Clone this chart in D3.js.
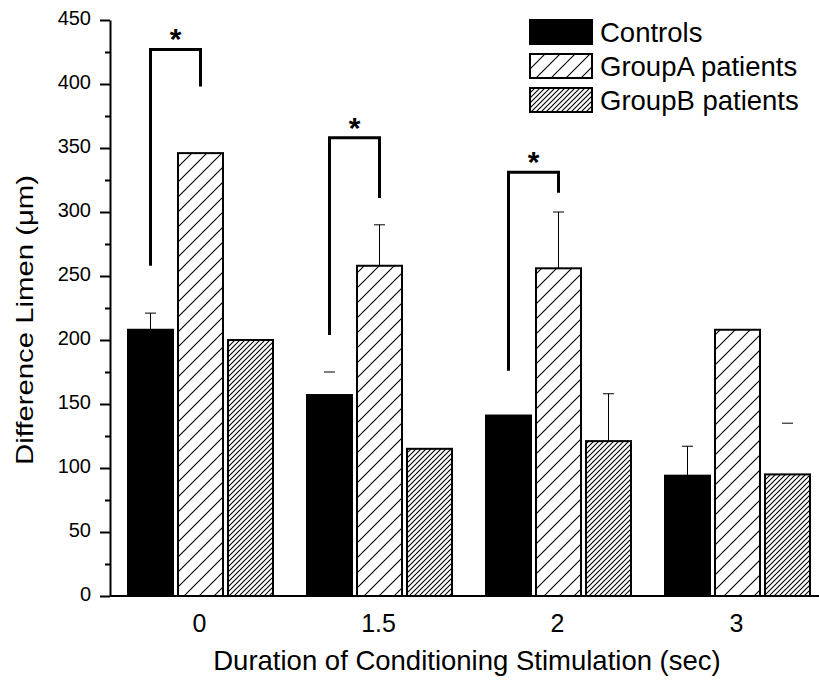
<!DOCTYPE html>
<html>
<head>
<meta charset="utf-8">
<script src="https://cdn.jsdelivr.net/npm/d3@7/dist/d3.min.js"></script>
<style>
  html, body { margin: 0; padding: 0; background: #fff; }
  svg { display: block; font-family: "Liberation Sans", Arial, sans-serif; }
</style>
</head>
<body>
<svg id="chart" width="819" height="681"></svg>
<script>
// ---- data ----
const categories = ["0", "1.5", "2", "3"];
const seriesNames = ["Controls", "GroupA patients", "GroupB patients"];
const controls = [208, 157, 141, 94];
const groupA   = [346, 258, 256, 208];
const groupB   = [200, 115, 121, 95];
// upper error-bar ends (null = none drawn)
const errControls = [221, 175, null, 117];
const errGroupA   = [null, 290, 300, null];
const errGroupB   = [null, null, 158, 135];
// whether the error-bar stem is visible (otherwise only the cap shows)
const stemControls = [true, false, false, true];
const stemGroupA   = [false, true, true, false];
const stemGroupB   = [false, false, true, false];
// significance brackets (Controls vs GroupA)
const bracketCats        = ["0", "1.5", "2"];
const bracketTop         = [427, 358, 331];
const bracketLeftBottom  = [258, 204, 176];
const bracketRightBottom = [398, 311, 315];
const yTicks = [0, 50, 100, 150, 200, 250, 300, 350, 400, 450];
const yMinorTicks = [25, 75, 125, 175, 225, 275, 325, 375, 425];
const xTitle = "Duration of Conditioning Stimulation (sec)";
const yTitle = "Difference Limen (\u03bcm)";

const values = [controls, groupA, groupB];
const errs = [errControls, errGroupA, errGroupB];
const stems = [stemControls, stemGroupA, stemGroupB];

// ---- scales ----
const svg = d3.select("#chart");
const y = d3.scaleLinear().domain([0, 450]).range([596, 20]);
const x0 = d3.scaleBand().domain(categories).range([110, 826]).padding(0);
const x1 = d3.scaleBand().domain(seriesNames).range([18, 163]).paddingInner(0.1).paddingOuter(0);

// ---- patterns ----
const defs = svg.append("defs");
const pA = defs.append("pattern").attr("id", "hatchA").attr("patternUnits", "userSpaceOnUse")
  .attr("width", 15).attr("height", 15);
pA.append("rect").attr("width", 15).attr("height", 15).attr("fill", "#fff");
pA.append("path").attr("d", "M-2,17 L17,-2 M-4,4 L4,-4 M11,19 L19,11")
  .attr("stroke", "#000").attr("stroke-width", 1.1);
const pB = defs.append("pattern").attr("id", "hatchB").attr("patternUnits", "userSpaceOnUse")
  .attr("width", 5).attr("height", 5);
pB.append("rect").attr("width", 5).attr("height", 5).attr("fill", "#fff");
pB.append("path").attr("d", "M-1,6 L6,-1 M-2,2 L2,-2 M3,7 L7,3")
  .attr("stroke", "#000").attr("stroke-width", 1.1);
const fills = ["#000", "url(#hatchA)", "url(#hatchB)"];

// ---- bars ----
const g = svg.append("g");
seriesNames.forEach((s, si) => {
  g.append("g").selectAll("rect")
    .data(categories.map((c, ci) => ({ c, v: values[si][ci] })))
    .join("rect")
    .attr("x", d => x0(d.c) + x1(s))
    .attr("y", d => y(d.v))
    .attr("width", x1.bandwidth())
    .attr("height", d => y(0) - y(d.v))
    .attr("fill", fills[si])
    .attr("stroke", "#000")
    .attr("stroke-width", 2);
});

// ---- error bars ----
seriesNames.forEach((s, si) => {
  categories.forEach((c, ci) => {
    const e = errs[si][ci];
    if (e == null) return;
    const cx = x0(c) + x1(s) + x1.bandwidth() / 2;
    if (stems[si][ci]) {
      g.append("line").attr("x1", cx).attr("x2", cx)
        .attr("y1", y(values[si][ci])).attr("y2", y(e))
        .attr("stroke", "#000").attr("stroke-width", 1);
    }
    g.append("line").attr("x1", cx - 5.5).attr("x2", cx + 5.5)
      .attr("y1", y(e)).attr("y2", y(e))
      .attr("stroke", "#000").attr("stroke-width", 1);
  });
});

// ---- significance brackets ----
bracketCats.forEach((c, i) => {
  const xl = x0(c) + x1(seriesNames[0]) + x1.bandwidth() / 2;
  const xr = x0(c) + x1(seriesNames[1]) + x1.bandwidth() / 2;
  const path = d3.path();
  path.moveTo(xl, y(bracketLeftBottom[i]));
  path.lineTo(xl, y(bracketTop[i]));
  path.lineTo(xr, y(bracketTop[i]));
  path.lineTo(xr, y(bracketRightBottom[i]));
  g.append("path").attr("d", path.toString())
    .attr("fill", "none").attr("stroke", "#000").attr("stroke-width", 3);
  g.append("text").attr("x", (xl + xr) / 2).attr("y", y(bracketTop[i]) - 14 + 14)
    .attr("text-anchor", "middle").attr("font-size", 30).attr("font-weight", "bold")
    .text("*");
});

// ---- axes ----
const yAxis = svg.append("g").attr("transform", "translate(110,0)")
  .call(d3.axisLeft(y).tickValues(yTicks).tickSize(10).tickSizeOuter(0).tickPadding(9));
yAxis.select(".domain").attr("stroke-width", 2);
yAxis.selectAll(".tick line").attr("stroke-width", 2);
yAxis.selectAll(".tick text").attr("font-size", 20).attr("font-family", "Liberation Sans, Arial, sans-serif")
  .attr("fill", "#000").attr("dy", "0.22em");

const yMinor = svg.append("g").attr("transform", "translate(110,0)")
  .call(d3.axisLeft(y).tickValues(yMinorTicks).tickSize(5).tickFormat(""));
yMinor.select(".domain").remove();
yMinor.selectAll(".tick line").attr("stroke-width", 2);

const xAxis = svg.append("g").attr("transform", `translate(0,${y(0)})`)
  .call(d3.axisBottom(x0).tickSize(0).tickSizeOuter(0).tickPadding(0));
xAxis.select(".domain").attr("stroke-width", 2).attr("d", `M${x0.range()[0]},0H${x0.range()[1]}`);
xAxis.selectAll(".tick text").attr("font-size", 25).attr("font-family", "Liberation Sans, Arial, sans-serif")
  .attr("fill", "#000").attr("dy", null).attr("y", 36);

// ---- axis titles ----
svg.append("text").attr("x", 467).attr("y", 670).attr("text-anchor", "middle")
  .attr("font-size", 27.5).text(xTitle);
svg.append("text").attr("transform", "translate(33,320) rotate(-90)")
  .attr("text-anchor", "middle").attr("font-size", 24)
  .attr("textLength", 290).attr("lengthAdjust", "spacingAndGlyphs")
  .text(yTitle);

// ---- legend ----
const legend = svg.append("g").attr("transform", "translate(530,20)");
seriesNames.forEach((s, i) => {
  const row = legend.append("g").attr("transform", `translate(0,${i * 34})`);
  row.append("rect").attr("x", 0).attr("y", 0).attr("width", 62).attr("height", 24)
    .attr("fill", fills[i]).attr("stroke", "#000").attr("stroke-width", 2);
  row.append("text").attr("x", 70).attr("y", 22).attr("font-size", 27.5).text(s);
});
</script>
</body>
</html>
